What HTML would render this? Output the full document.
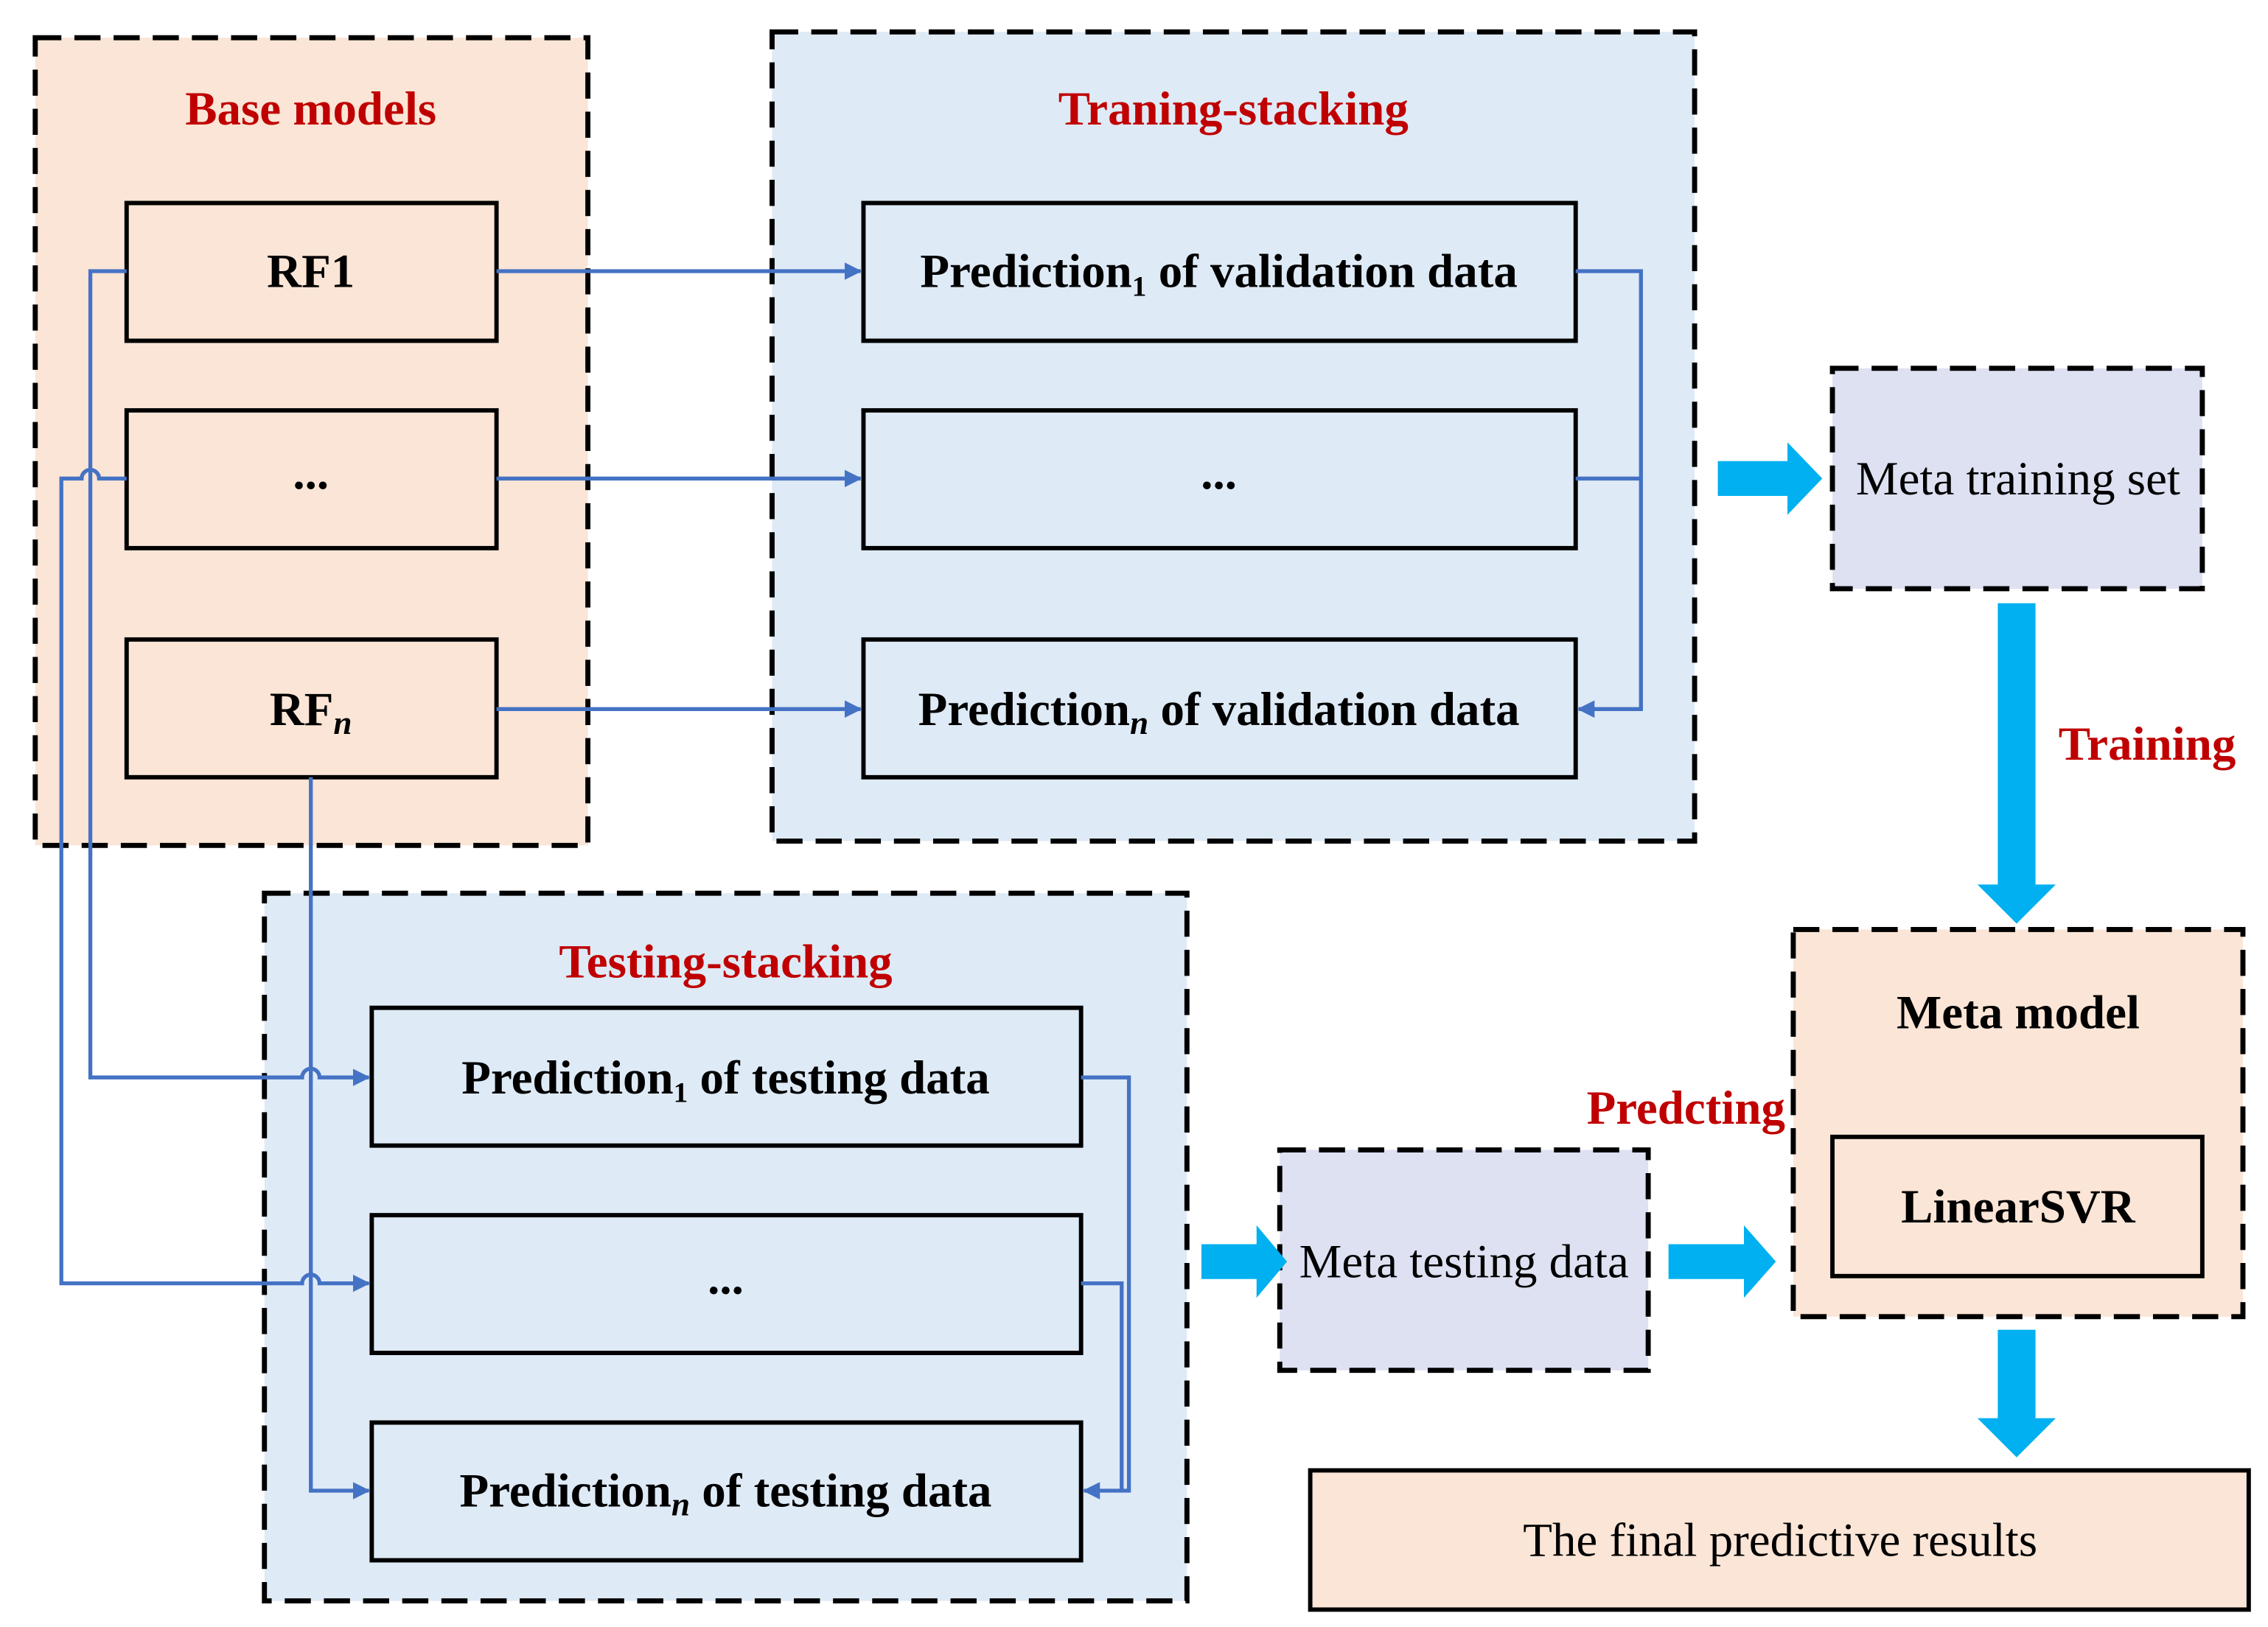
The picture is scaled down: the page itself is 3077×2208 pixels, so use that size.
<!DOCTYPE html>
<html><head><meta charset="utf-8"><style>html,body{margin:0;padding:0;background:#fff}svg{display:block}</style></head><body>
<svg width="3077" height="2208" viewBox="0 0 1563 1122" xmlns="http://www.w3.org/2000/svg" font-family="'Liberation Serif', serif">
<defs>
<marker id="a" markerWidth="12" markerHeight="12" refX="11" refY="6" orient="auto" markerUnits="userSpaceOnUse" viewBox="0 0 12 12"><path d="M0,0 L12,6 L0,12 z" fill="#4472c4"/></marker>
</defs>
<g stroke="#000" stroke-width="3.5" stroke-dasharray="18,9">
<rect x="24" y="26" width="381" height="557" fill="#fae5d6"/>
<rect x="532" y="22" width="636" height="558" fill="#deeaf6"/>
<rect x="182" y="616" width="636" height="488" fill="#deeaf6"/>
<rect x="1263" y="254" width="255" height="152" fill="#dde1f2"/>
<rect x="882" y="793" width="254" height="152" fill="#dde1f2"/>
<rect x="1236" y="641" width="310" height="267" fill="#fae5d6"/>
</g>
<g stroke="#000" stroke-width="3">
<rect x="87" y="140" width="255" height="95" fill="#fae5d6"/>
<rect x="87" y="283" width="255" height="95" fill="#fae5d6"/>
<rect x="87" y="441" width="255" height="95" fill="#fae5d6"/>
<rect x="595" y="140" width="491" height="95" fill="#deeaf6"/>
<rect x="595" y="283" width="491" height="95" fill="#deeaf6"/>
<rect x="595" y="441" width="491" height="95" fill="#deeaf6"/>
<rect x="256" y="695" width="489" height="95" fill="#deeaf6"/>
<rect x="256" y="838" width="489" height="95" fill="#deeaf6"/>
<rect x="256" y="981" width="489" height="95" fill="#deeaf6"/>
<rect x="1263" y="784" width="255" height="96" fill="#fae5d6"/>
<rect x="903" y="1014" width="647" height="96" fill="#fae5d6"/>
</g>
<g stroke="#4472c4" stroke-width="2.7" fill="none">
<path d="M342,187 H593" marker-end="url(#a)"/>
<path d="M342,330 H593" marker-end="url(#a)"/>
<path d="M342,489 H593" marker-end="url(#a)"/>
<path d="M1086,187 H1131 V489 H1088" marker-end="url(#a)"/>
<path d="M1086,330 H1131"/>
<path d="M87,187 H62 V743 H208 a6,6 0 0 1 12,0 H254" marker-end="url(#a)"/>
<path d="M87,330 H68 a6,6 0 0 0 -12,0 H42 V885 H208 a6,6 0 0 1 12,0 H254" marker-end="url(#a)"/>
<path d="M214,536 V1028 H254" marker-end="url(#a)"/>
<path d="M745,743 H778 V1028 H747" marker-end="url(#a)"/>
<path d="M745,885 H773 V1028"/>
</g>
<g fill="#00b0f0">
<path d="M1184,318 H1232 V305 L1256,330 L1232,355 V342 H1184 z"/>
<path d="M828,858 H866 V845 L887,870 L866,895 V882 H828 z"/>
<path d="M1150,858 H1202 V845 L1224,870 L1202,895 V882 H1150 z"/>
<path d="M1377,416 H1403 V610 H1417 L1390,637 L1363,610 H1377 z"/>
<path d="M1377,917 H1403 V978 H1417 L1390,1005 L1363,978 H1377 z"/>
</g>
<g font-weight="bold" font-size="33" text-anchor="middle" fill="#c00000">
<text x="214" y="86">Base models</text>
<text x="850" y="86">Traning-stacking</text>
<text x="500" y="674">Testing-stacking</text>
<text x="1480" y="524">Training</text>
<text x="1162" y="775">Predcting</text>
</g>
<g font-weight="bold" font-size="33" text-anchor="middle" fill="#000">
<text x="214" y="198">RF1</text>
<text x="214" y="337">...</text>
<text x="214" y="500">RF<tspan font-style="italic" font-size="23" dy="6">n</tspan></text>
<text x="840" y="198">Prediction<tspan font-size="20" dy="6">1</tspan><tspan dy="-6"> of validation data</tspan></text>
<text x="840" y="337">...</text>
<text x="840" y="500">Prediction<tspan font-size="23" font-style="italic" dy="6">n</tspan><tspan dy="-6"> of validation data</tspan></text>
<text x="500" y="754">Prediction<tspan font-size="20" dy="6">1</tspan><tspan dy="-6"> of testing data</tspan></text>
<text x="500" y="892">...</text>
<text x="500" y="1039">Prediction<tspan font-size="23" font-style="italic" dy="6">n</tspan><tspan dy="-6"> of testing data</tspan></text>
<text x="1391" y="709">Meta model</text>
<text x="1391" y="843">LinearSVR</text>
</g>
<g font-size="33" text-anchor="middle" fill="#000">
<text x="1391" y="341">Meta training set</text>
<text x="1009" y="881">Meta testing data</text>
<text x="1227" y="1073">The final predictive results</text>
</g>
</svg>
</body></html>
